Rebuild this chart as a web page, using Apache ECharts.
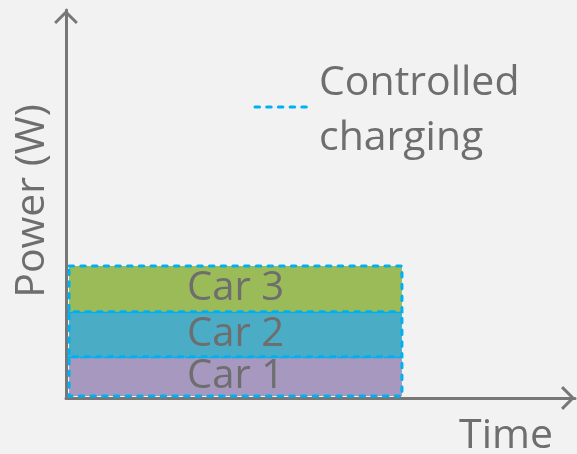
<!DOCTYPE html>
<html>
<head>
<meta charset="utf-8">
<script src="https://cdn.jsdelivr.net/npm/echarts@6/dist/echarts.min.js"></script>
<style>
  html, body { margin: 0; padding: 0; background: #f2f2f2; }
  #chart { width: 577px; height: 454px; }
</style>
</head>
<body>
<div id="chart"></div>
<script>
// Cars charging side by side; each one's power block is stacked on the previous.
const cars = ['Car 1', 'Car 2', 'Car 3'];
const carPower = [10.1, 11.6, 11.8];
const chargeStart = 0.6;
const chargeEnd = 66;
const powerBase = 0.5;
const legendLines = ['Controlled', 'charging'];

const carFill = ['#a698bf', '#4bacc6', '#9bbb59'];
const textGray = '#6e6e6e';
const axisGray = '#777777';
const dashBlue = '#00b0f0';
const fontFamily = '"Open Sans", "DejaVu Sans", sans-serif';
const dashStyle = { stroke: dashBlue, lineWidth: 3, lineDash: [4.5, 7.2], lineCap: 'round' };

// Stack the blocks: each car starts where the previous one ends.
const blocks = [];
let level = powerBase;
cars.forEach((name, i) => {
  blocks.push({ name, value: [chargeStart, chargeEnd, level, level + carPower[i], i] });
  level += carPower[i];
});

// Open chevron pointing along the axis.
const chevron = 'path://M12,0 L24,12 L21.9,14.1 L12,4.2 L2.1,14.1 L0,12 Z';

const axisLine = {
  show: true,
  lineStyle: { color: axisGray, width: 3 },
  symbol: ['none', chevron],
  symbolSize: [24, 14],
  symbolOffset: [0, -7]
};

const chart = echarts.init(document.getElementById('chart'), null, { renderer: 'canvas' });
chart.setOption({
  backgroundColor: '#f2f2f2',
  animation: false,
  grid: { left: 66, right: 2, top: 10, bottom: 56, containLabel: false, outerBoundsMode: 'none' },
  xAxis: {
    type: 'value', min: 0, max: 100,
    name: 'Time', nameLocation: 'end', nameGap: -22,
    nameTextStyle: { color: textGray, fontSize: 41, fontFamily, align: 'right', verticalAlign: 'top', padding: [18, 0, 0, 0] },
    axisLine, axisTick: { show: false }, axisLabel: { show: false }, splitLine: { show: false }
  },
  yAxis: {
    type: 'value', min: 0, max: 100,
    name: 'Power (W)', nameLocation: 'middle', nameGap: 13,
    nameTextStyle: { color: textGray, fontSize: 41, fontFamily, padding: [0, 0, 0, 6] },
    axisLine, axisTick: { show: false }, axisLabel: { show: false }, splitLine: { show: false }
  },
  graphic: [
    {
      type: 'line', shape: { x1: 255, y1: 107, x2: 309, y2: 107 },
      style: dashStyle
    },
    {
      type: 'text', x: 319, y: 110.5,
      style: { text: legendLines.join('\n'), fill: textGray, font: '41px ' + fontFamily, lineHeight: 55, verticalAlign: 'middle', align: 'left' }
    }
  ],
  series: [{
    type: 'custom',
    coordinateSystem: 'cartesian2d',
    encode: { x: [0, 1], y: [2, 3] },
    data: blocks,
    renderItem(params, api) {
      const p0 = api.coord([api.value(0), api.value(2)]);
      const p1 = api.coord([api.value(1), api.value(3)]);
      const idx = api.value(4);
      return {
        type: 'rect',
        shape: { x: p0[0], y: p1[1], width: p1[0] - p0[0], height: p0[1] - p1[1] },
        style: Object.assign({ fill: carFill[idx] }, dashStyle),
        textContent: {
          type: 'text',
          style: { text: cars[idx], fill: textGray, fontSize: 40, fontFamily }
        },
        textConfig: { position: 'inside' }
      };
    }
  }]
});
</script>
</body>
</html>
